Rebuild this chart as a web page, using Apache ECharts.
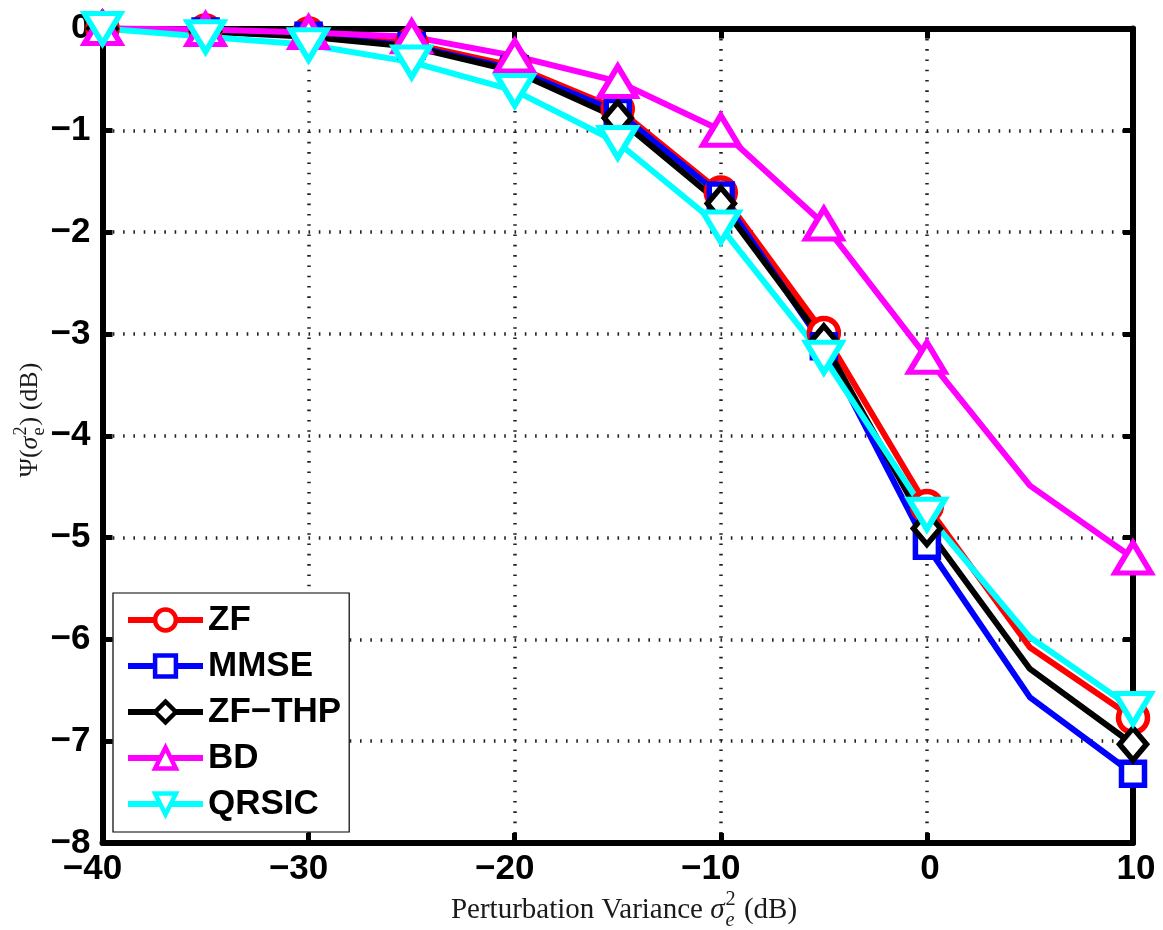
<!DOCTYPE html>
<html>
<head>
<meta charset="utf-8">
<script src="https://cdn.jsdelivr.net/npm/echarts@6/dist/echarts.min.js"></script>
<style>
  html, body { margin: 0; padding: 0; background: #fff; }
  #chart { width: 1163px; height: 930px; }
</style>
</head>
<body>
<div id="chart"></div>
<script>
// Perturbation variance sigma_e^2 in dB (x axis)
const perturbationDb = [-40, -35, -30, -25, -20, -15, -10, -5, 0, 5, 10];

// Psi(sigma_e^2) in dB for each precoding scheme
const psiZF    = [0, -0.02, -0.05, -0.15, -0.37, -0.79, -1.61, -2.99, -4.69, -6.08, -6.77];
const psiMMSE  = [0, -0.03, -0.07, -0.17, -0.40, -0.82, -1.64, -3.12, -5.08, -6.57, -7.32];
const psiZFTHP = [0, -0.03, -0.08, -0.18, -0.42, -0.88, -1.72, -3.08, -4.91, -6.29, -7.03];
const psiBD    = [0, -0.01, -0.04, -0.08, -0.27, -0.52, -1.00, -1.92, -3.23, -4.49, -5.20];
const psiQRSIC = [0, -0.08, -0.16, -0.33, -0.61, -1.12, -1.95, -3.23, -4.77, -5.98, -6.68];

const seriesNames = ['ZF', 'MMSE', 'ZF\u2212THP', 'BD', 'QRSIC'];

// x positions drawn without a marker (line only)
const unmarkedX = [5];

const MINUS = '\u2212';
const tickFont = 'Liberation Sans';
const serif = 'Liberation Serif';

function lineSeries(name, values, color, symbol, size, rotate) {
  return {
    type: 'line',
    name: name,
    data: perturbationDb.map((x, i) =>
      unmarkedX.includes(x) ? { value: [x, values[i]], symbol: 'none' } : [x, values[i]]),
    symbol: symbol,
    symbolSize: size,
    symbolRotate: rotate || 0,
    showAllSymbol: true,
    clip: false,
    lineStyle: { color: color, width: 6 },
    itemStyle: { color: '#fff', borderColor: color, borderWidth: 5.5 },
    emphasis: { disabled: true },
    animation: false
  };
}

// --- math-style axis titles built from text pieces ---
const measureCtx = document.createElement('canvas').getContext('2d');
function textWidth(str, size, italic) {
  measureCtx.font = (italic ? 'italic ' : '') + size + 'px "' + serif + '"';
  return measureCtx.measureText(str).width;
}
function piece(str, x, y, size, italic) {
  return {
    type: 'text', x: x, y: y, silent: true,
    style: {
      text: str, fontFamily: serif, fontSize: size,
      fontStyle: italic ? 'italic' : 'normal',
      fill: '#1a1a1a', align: 'left', verticalAlign: 'middle'
    }
  };
}
function mathLabel(parts, fs) {
  const children = [];
  let x = 0;
  parts.forEach(p => {
    if (p.sup !== undefined) {
      const s = fs * 0.7;
      children.push(piece(p.sup, x + 1, -fs * 0.34, s, false));
      children.push(piece(p.sub, x + 1, fs * 0.36, s, p.subItalic));
      x += Math.max(textWidth(p.sup, s, false), textWidth(p.sub, s, p.subItalic)) + 2;
    } else {
      children.push(piece(p.t, x, 0, fs, p.italic));
      x += textWidth(p.t, fs, p.italic);
    }
  });
  children.forEach(c => { c.x -= x / 2; });
  return children;
}

const xTitleParts = [
  { t: 'Perturbation Variance ' },
  { t: '\u03C3', italic: true },
  { sup: '2', sub: 'e', subItalic: true },
  { t: ' (dB)' }
];
const yTitleParts = [
  { t: '\u03A8(' },
  { t: '\u03C3', italic: true },
  { sup: '2', sub: 'e', subItalic: false },
  { t: ') (dB)' }
];

const axisLineStyle = { color: '#000', width: 6 };
const tickStyle = { show: true, inside: true, length: 10, lineStyle: { color: '#000', width: 5 } };
const gridLineStyle = { color: '#222', width: 3.5, type: [1.6, 8.7] };
const labelStyle = { fontFamily: tickFont, fontWeight: 'bold', fontSize: 35, color: '#000' };

const chart = echarts.init(document.getElementById('chart'), null, { renderer: 'canvas' });
chart.setOption({
  backgroundColor: '#fff',
  animation: false,
  grid: { left: 102.5, right: 30, top: 28.5, bottom: 87, containLabel: false },
  xAxis: [
    {
      type: 'value', min: -40, max: 10, interval: 10, position: 'bottom',
      axisLine: { show: true, onZero: false, lineStyle: axisLineStyle },
      axisTick: tickStyle,
      axisLabel: Object.assign({}, labelStyle, {
        margin: 9,
        formatter: v => v < 0 ? '{n|' + MINUS + Math.abs(v) + '}' : '{p|' + v + '}',
        rich: {
          n: Object.assign({}, labelStyle, { padding: [0, 20, 0, 0] }),
          p: Object.assign({}, labelStyle, { padding: [0, 0, 0, 6] })
        }
      }),
      splitLine: { show: true, lineStyle: gridLineStyle }
    },
    {
      type: 'value', min: -40, max: 10, interval: 10, position: 'top',
      axisLine: { show: true, onZero: false, lineStyle: axisLineStyle },
      axisTick: tickStyle,
      axisLabel: { show: false },
      splitLine: { show: false }
    }
  ],
  yAxis: [
    {
      type: 'value', min: -8, max: 0, interval: 1, position: 'left',
      axisLine: { show: true, onZero: false, lineStyle: axisLineStyle },
      axisTick: tickStyle,
      axisLabel: Object.assign({}, labelStyle, {
        margin: 12,
        formatter: v => v < 0 ? MINUS + Math.abs(v) : String(v)
      }),
      splitLine: { show: true, lineStyle: gridLineStyle }
    },
    {
      type: 'value', min: -8, max: 0, interval: 1, position: 'right',
      axisLine: { show: true, onZero: false, lineStyle: axisLineStyle },
      axisTick: tickStyle,
      axisLabel: { show: false },
      splitLine: { show: false }
    }
  ],
  legend: {
    orient: 'vertical',
    left: 113, top: 593,
    itemWidth: 75, itemHeight: 26, itemGap: 10,
    padding: [9, 8, 10, 12],
    backgroundColor: '#fff', borderColor: '#000', borderWidth: 1.2, borderRadius: 0,
    selectedMode: false,
    lineStyle: { width: 6 },
    itemStyle: { borderWidth: 4.5 },
    textStyle: { fontFamily: tickFont, fontWeight: 'bold', fontSize: 35, color: '#000', lineHeight: 36 },
    data: seriesNames
  },
  series: [
    lineSeries(seriesNames[0], psiZF, '#ff0000', 'circle', 29),
    lineSeries(seriesNames[1], psiMMSE, '#0000ff', 'rect', 23),
    lineSeries(seriesNames[2], psiZFTHP, '#000000', 'diamond', [27, 32]),
    lineSeries(seriesNames[3], psiBD, '#ff00ff', 'triangle', [36, 30]),
    lineSeries(seriesNames[4], psiQRSIC, '#00ffff', 'triangle', [36, 30], 180)
  ],
  graphic: [
    { type: 'group', x: 624, y: 910, children: mathLabel(xTitleParts, 29) },
    { type: 'group', x: 30, y: 420, rotation: Math.PI / 2, children: mathLabel(yTitleParts, 26) }
  ]
});
</script>
</body>
</html>
